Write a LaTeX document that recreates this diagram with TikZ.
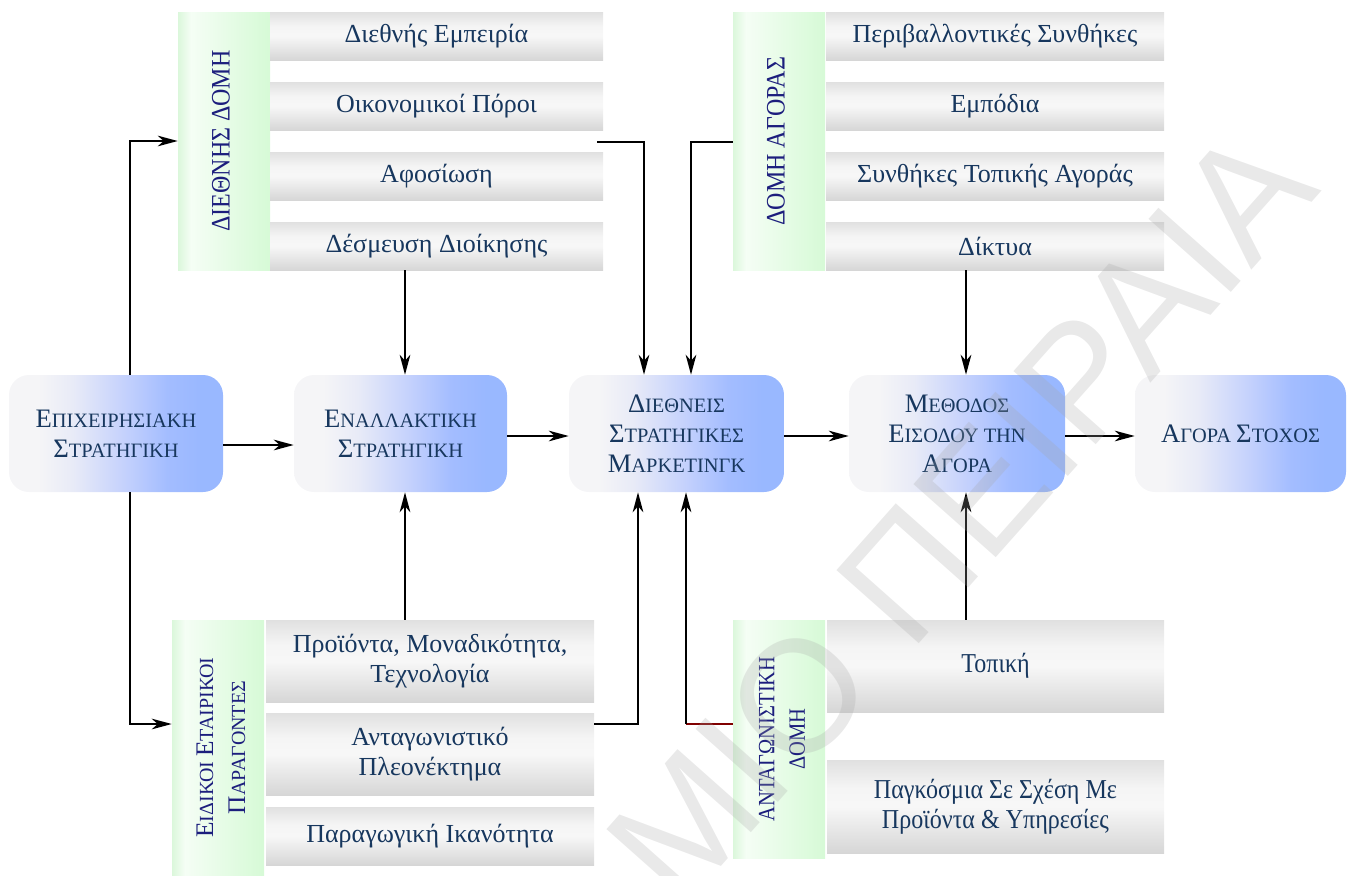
\documentclass[tikz,border=0pt]{standalone}
\usepackage{fontspec}
\setmainfont{Liberation Serif}
\newfontfamily\narrowserif[FakeStretch=0.9]{Liberation Serif}
\newfontfamily\tallserif[FakeStretch=0.88]{Liberation Serif}
\newfontfamily\marksans{Liberation Sans}
\usetikzlibrary{arrows.meta,calc}

\definecolor{txtblue}{RGB}{23,55,94}
\definecolor{barblue}{RGB}{28,30,125}
\definecolor{linkred}{RGB}{128,0,0}

% left-to-right fade of the process steps: pale grey into cornflower blue
\pgfdeclarehorizontalshading{bluefade}{100bp}{%
  rgb(0bp)=(0.96,0.96,0.97); rgb(32bp)=(0.96,0.96,0.97);
  rgb(40bp)=(0.91,0.92,0.97); rgb(52bp)=(0.77,0.82,0.99);
  rgb(62bp)=(0.64,0.74,1); rgb(70bp)=(0.60,0.72,1); rgb(100bp)=(0.60,0.72,1)}
% bevelled grey of the factor boxes
\pgfdeclareverticalshading{grayfade}{100bp}{%
  rgb(0bp)=(0.84,0.84,0.84); rgb(25bp)=(0.84,0.84,0.84);
  rgb(50bp)=(0.97,0.97,0.97); rgb(60bp)=(0.96,0.96,0.96);
  rgb(75bp)=(0.88,0.88,0.88); rgb(100bp)=(0.88,0.88,0.88)}
% pale green title bars
\pgfdeclarehorizontalshading{greenfade}{100bp}{%
  rgb(0bp)=(0.86,0.97,0.86); rgb(25bp)=(0.86,0.97,0.86);
  rgb(32bp)=(0.96,0.995,0.96); rgb(75bp)=(0.84,0.98,0.84);
  rgb(100bp)=(0.84,0.98,0.84)}

\newcommand{\Ini}[1]{{\fontsize{20}{22.5}\selectfont #1}}
\newcommand{\IniS}[1]{{\fontsize{19}{22}\selectfont #1}}

\tikzset{
  px/.style 2 args={minimum width=#1*0.75pt, minimum height=#2*0.75pt},
  graybox/.style={shading=grayfade, inner sep=0pt, text=txtblue, align=center,
    font=\fontsize{19.5}{22}\selectfont},
  widebox/.style={graybox, font=\tallserif\fontsize{20.5}{22.5}\selectfont},
  greenbar/.style={shading=greenfade, inner sep=0pt},
  barlabel/.style={rotate=90, text=barblue, align=center, inner sep=0pt},
  stepbox/.style={shading=bluefade, rounded corners=15pt, inner sep=0pt,
    text=txtblue, align=center, font=\fontsize{15.3}{22.5}\selectfont},
  arr/.style={line width=1.5pt, -{Stealth[length=15pt,width=8pt,inset=4.5pt]}},
  link/.style={line width=1.5pt},
}

\begin{document}
\begin{tikzpicture}[x=0.75pt,y=-0.75pt]
\useasboundingbox (0,0) rectangle (1351,875);

% ---- international structure (top left)
\node[greenbar, px={92}{258}] (tlbar) at (224,141) {};
\node[barlabel, font=\narrowserif\fontsize{20}{24}\selectfont] (tltitle) at (221,141) {ΔΙΕΘΝΗΣ ΔΟΜΗ};
\node[graybox, px={333}{48}] (tl1) at (436.5,36)  {Διεθνής Εμπειρία};
\node[graybox, px={333}{48}] (tl2) at (436.5,106) {Οικονομικοί Πόροι};
\node[graybox, px={333}{48}] (tl3) at (436.5,176) {Αφοσίωση};
\node[graybox, px={333}{48}] (tl4) at (436.5,246) {Δέσμευση Διοίκησης};

% ---- market structure (top right)
\node[greenbar, px={92}{258}] (trbar) at (779,141) {};
\node[barlabel, font=\narrowserif\fontsize{20}{24}\selectfont] (trtitle) at (776,141) {ΔΟΜΗ ΑΓΟΡΑΣ};
\node[graybox, px={338}{48}] (tr1) at (995,36)  {Περιβαλλοντικές Συνθήκες};
\node[graybox, px={338}{48}] (tr2) at (995,106) {Εμπόδια};
\node[graybox, px={338}{48}] (tr3) at (995,176) {Συνθήκες Τοπικής Αγοράς};
\node[graybox, px={338}{48}] (tr4) at (995,246) {Δίκτυα};

% ---- main process
\node[stepbox, px={214}{117}] (m1) at (116,433.5)
  {\Ini{Ε}ΠΙΧΕΙΡΗΣΙΑΚΗ\\\Ini{Σ}ΤΡΑΤΗΓΙΚΗ};
\node[stepbox, px={213}{117}] (m2) at (400.5,433.5)
  {\Ini{Ε}ΝΑΛΛΑΚΤΙΚΗ\\\Ini{Σ}ΤΡΑΤΗΓΙΚΗ};
\node[stepbox, px={215}{117}] (m3) at (676.5,433.5)
  {\Ini{Δ}ΙΕΘΝΕΙΣ\\\Ini{Σ}ΤΡΑΤΗΓΙΚΕΣ\\\Ini{Μ}ΑΡΚΕΤΙΝΓΚ};
\node[stepbox, px={216}{117}] (m4) at (957,433.5)
  {\Ini{Μ}ΕΘΟΔΟΣ\\\Ini{Ε}ΙΣΟΔΟΥ ΤΗΝ\\\Ini{Α}ΓΟΡΑ};
\node[stepbox, px={211}{117}] (m5) at (1240.5,433.5)
  {\Ini{Α}ΓΟΡΑ \Ini{Σ}ΤΟΧΟΣ};

% ---- company-specific factors (bottom left)
\node[greenbar, px={92}{255}] (blbar) at (218,747.5) {};
\node[barlabel, font=\fontsize{15}{24}\selectfont] (bltitle) at (221,747.5)
  {\IniS{Ε}ΙΔΙΚΟΙ \IniS{Ε}ΤΑΙΡΙΚΟΙ\\\IniS{Π}ΑΡΑΓΟΝΤΕΣ};
\node[graybox, px={328}{82}] (bl1) at (430,661) {Προϊόντα, Μοναδικότητα,\\Τεχνολογία};
\node[graybox, px={328}{82}] (bl2) at (430,754) {Ανταγωνιστικό\\Πλεονέκτημα};
\node[graybox, px={328}{58}] (bl3) at (430,836) {Παραγωγική Ικανότητα};

% ---- competitive structure (bottom right)
\node[greenbar, px={92}{238}] (brbar) at (779,739) {};
\node[barlabel, font=\tallserif\fontsize{17.5}{23}\selectfont] (brtitle) at (782,739)
  {ΑΝΤΑΓΩΝΙΣΤΙΚΗ\\ΔΟΜΗ};
\node[widebox, px={337}{92}] (br1) at (995.5,666) {Τοπική};
\node[widebox, px={337}{93}] (br2) at (995.5,806.5) {Παγκόσμια Σε Σχέση Με\\Προϊόντα \& Υπηρεσίες};

% ---- junction points of the elbow connectors
\coordinate (x130) at (130,0);
\coordinate (x405) at (405,0);
\coordinate (x966) at (966,0);
\coordinate (y445) at (0,445);
\coordinate (y436) at (0,436);
\coordinate (y724) at (0,724);
\coordinate (j1) at (644,142);
\coordinate (j2) at (691,142);
\coordinate (j3) at (638,724);
\coordinate (j4) at (686,724);

% ---- connectors
\draw[arr] (m1.north -| x130) |- (tlbar.west);
\draw[arr] (m1.south -| x130) |- (blbar.west |- y724);
\draw[arr] (m1.east |- y445) -- (m2.west |- y445);
\draw[arr] (m2.east |- y436) -- (m3.west |- y436);
\draw[arr] (m3.east |- y436) -- (m4.west |- y436);
\draw[arr] (m4.east |- y436) -- (m5.west |- y436);

\draw[arr] (tl4.south -| x405) -- (m2.north -| x405);
\draw[arr] (bl1.north -| x405) -- (m2.south -| x405);
\draw[arr] ([xshift=-4.5pt]tl2.east |- j1) -- (j1) -- (j1 |- m3.north);
\draw[arr] (trbar.west |- j2) -- (j2) -- (j2 |- m3.north);
\draw[arr] (bl2.east |- j3) -- (j3) -- (j3 |- m3.south);
\draw[link, linkred] (brbar.west |- j4) -- (j4);
\draw[arr] (j4) -- (j4 |- m3.south);
\draw[arr] (tr4.south -| x966) -- (m4.north -| x966);
\draw[arr] (br1.north -| x966) -- (m4.south -| x966);

% ---- watermark
\node[text=black!35, opacity=0.25, rotate=48.4, font=\marksans\fontsize{120}{120}\selectfont, inner sep=0pt] (stamp) at (960,515) {ΜΙΟ ΠΕΙΡΑΙΑ};
\end{tikzpicture}
\end{document}
